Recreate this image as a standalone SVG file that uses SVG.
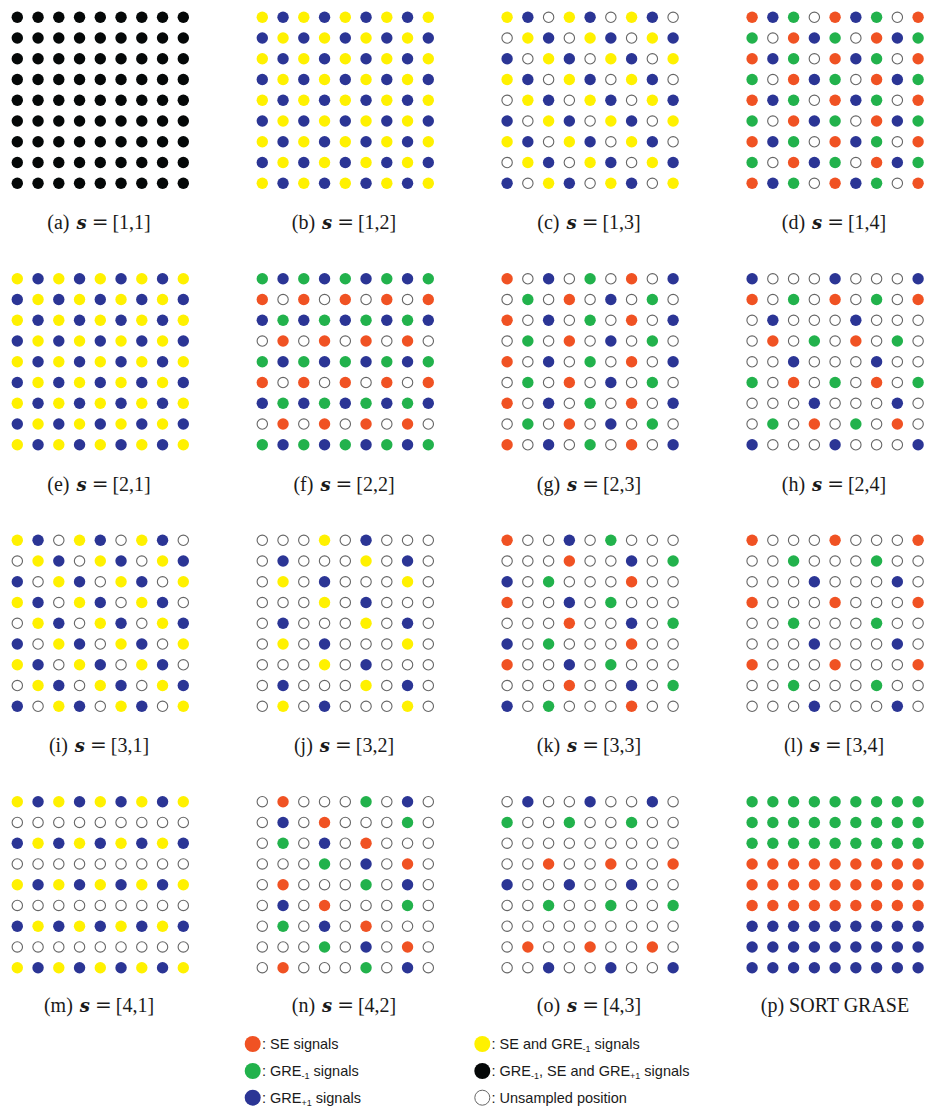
<svg xmlns="http://www.w3.org/2000/svg" width="927" height="1108" viewBox="0 0 927 1108">
<style>
.cap{font-family:"Liberation Serif","Times New Roman",serif;font-size:20px;fill:#1a1a1a}
.sv{font-family:"DejaVu Serif","Liberation Serif",serif;font-weight:bold;font-style:italic;font-size:18px}
.eq{font-family:"DejaVu Serif","Liberation Serif",serif;font-size:20px}
.leg{font-family:"Liberation Sans",Arial,sans-serif;font-size:14.5px;fill:#1a1a1a}
.sub{font-size:9px}
</style>
<defs>
<circle id="R" r="5.7" fill="#f05223"/>
<circle id="G" r="5.7" fill="#22b24c"/>
<circle id="B" r="5.7" fill="#2b3595"/>
<circle id="Y" r="5.7" fill="#fff100"/>
<circle id="K" r="5.7" fill="#050808"/>
<circle id="O" r="5.2" fill="#fff" stroke="#666" stroke-width="1.1"/>
<g id="rK"><use href="#K"/><use href="#K" x="20.75"/><use href="#K" x="41.5"/><use href="#K" x="62.25"/><use href="#K" x="83"/><use href="#K" x="103.75"/><use href="#K" x="124.5"/><use href="#K" x="145.25"/><use href="#K" x="166"/></g>
<g id="rG"><use href="#G"/><use href="#G" x="20.75"/><use href="#G" x="41.5"/><use href="#G" x="62.25"/><use href="#G" x="83"/><use href="#G" x="103.75"/><use href="#G" x="124.5"/><use href="#G" x="145.25"/><use href="#G" x="166"/></g>
<g id="rR"><use href="#R"/><use href="#R" x="20.75"/><use href="#R" x="41.5"/><use href="#R" x="62.25"/><use href="#R" x="83"/><use href="#R" x="103.75"/><use href="#R" x="124.5"/><use href="#R" x="145.25"/><use href="#R" x="166"/></g>
<g id="rB"><use href="#B"/><use href="#B" x="20.75"/><use href="#B" x="41.5"/><use href="#B" x="62.25"/><use href="#B" x="83"/><use href="#B" x="103.75"/><use href="#B" x="124.5"/><use href="#B" x="145.25"/><use href="#B" x="166"/></g>
<g id="rO"><use href="#O"/><use href="#O" x="20.75"/><use href="#O" x="41.5"/><use href="#O" x="62.25"/><use href="#O" x="83"/><use href="#O" x="103.75"/><use href="#O" x="124.5"/><use href="#O" x="145.25"/><use href="#O" x="166"/></g>
<g id="rYB"><use href="#Y"/><use href="#B" x="20.75"/><use href="#Y" x="41.5"/><use href="#B" x="62.25"/><use href="#Y" x="83"/><use href="#B" x="103.75"/><use href="#Y" x="124.5"/><use href="#B" x="145.25"/><use href="#Y" x="166"/></g>
<g id="rBY"><use href="#B"/><use href="#Y" x="20.75"/><use href="#B" x="41.5"/><use href="#Y" x="62.25"/><use href="#B" x="83"/><use href="#Y" x="103.75"/><use href="#B" x="124.5"/><use href="#Y" x="145.25"/><use href="#B" x="166"/></g>
<g id="rc0"><use href="#Y"/><use href="#B" x="20.75"/><use href="#O" x="41.5"/><use href="#Y" x="62.25"/><use href="#B" x="83"/><use href="#O" x="103.75"/><use href="#Y" x="124.5"/><use href="#B" x="145.25"/><use href="#O" x="166"/></g>
<g id="rc1"><use href="#O"/><use href="#Y" x="20.75"/><use href="#B" x="41.5"/><use href="#O" x="62.25"/><use href="#Y" x="83"/><use href="#B" x="103.75"/><use href="#O" x="124.5"/><use href="#Y" x="145.25"/><use href="#B" x="166"/></g>
<g id="rc2"><use href="#B"/><use href="#O" x="20.75"/><use href="#Y" x="41.5"/><use href="#B" x="62.25"/><use href="#O" x="83"/><use href="#Y" x="103.75"/><use href="#B" x="124.5"/><use href="#O" x="145.25"/><use href="#Y" x="166"/></g>
<g id="rd0"><use href="#R"/><use href="#B" x="20.75"/><use href="#G" x="41.5"/><use href="#O" x="62.25"/><use href="#R" x="83"/><use href="#B" x="103.75"/><use href="#G" x="124.5"/><use href="#O" x="145.25"/><use href="#R" x="166"/></g>
<g id="rd1"><use href="#G"/><use href="#O" x="20.75"/><use href="#R" x="41.5"/><use href="#B" x="62.25"/><use href="#G" x="83"/><use href="#O" x="103.75"/><use href="#R" x="124.5"/><use href="#B" x="145.25"/><use href="#G" x="166"/></g>
<g id="rf0"><use href="#G"/><use href="#B" x="20.75"/><use href="#G" x="41.5"/><use href="#B" x="62.25"/><use href="#G" x="83"/><use href="#B" x="103.75"/><use href="#G" x="124.5"/><use href="#B" x="145.25"/><use href="#G" x="166"/></g>
<g id="rf1"><use href="#R"/><use href="#O" x="20.75"/><use href="#R" x="41.5"/><use href="#O" x="62.25"/><use href="#R" x="83"/><use href="#O" x="103.75"/><use href="#R" x="124.5"/><use href="#O" x="145.25"/><use href="#R" x="166"/></g>
<g id="rf2"><use href="#B"/><use href="#G" x="20.75"/><use href="#B" x="41.5"/><use href="#G" x="62.25"/><use href="#B" x="83"/><use href="#G" x="103.75"/><use href="#B" x="124.5"/><use href="#G" x="145.25"/><use href="#B" x="166"/></g>
<g id="rf3"><use href="#O"/><use href="#R" x="20.75"/><use href="#O" x="41.5"/><use href="#R" x="62.25"/><use href="#O" x="83"/><use href="#R" x="103.75"/><use href="#O" x="124.5"/><use href="#R" x="145.25"/><use href="#O" x="166"/></g>
<g id="rg0"><use href="#R"/><use href="#O" x="20.75"/><use href="#B" x="41.5"/><use href="#O" x="62.25"/><use href="#G" x="83"/><use href="#O" x="103.75"/><use href="#R" x="124.5"/><use href="#O" x="145.25"/><use href="#B" x="166"/></g>
<g id="rg1"><use href="#O"/><use href="#G" x="20.75"/><use href="#O" x="41.5"/><use href="#R" x="62.25"/><use href="#O" x="83"/><use href="#B" x="103.75"/><use href="#O" x="124.5"/><use href="#G" x="145.25"/><use href="#O" x="166"/></g>
<g id="rh0"><use href="#B"/><use href="#O" x="20.75"/><use href="#O" x="41.5"/><use href="#O" x="62.25"/><use href="#B" x="83"/><use href="#O" x="103.75"/><use href="#O" x="124.5"/><use href="#O" x="145.25"/><use href="#B" x="166"/></g>
<g id="rh1"><use href="#R"/><use href="#O" x="20.75"/><use href="#G" x="41.5"/><use href="#O" x="62.25"/><use href="#R" x="83"/><use href="#O" x="103.75"/><use href="#G" x="124.5"/><use href="#O" x="145.25"/><use href="#R" x="166"/></g>
<g id="rh2"><use href="#O"/><use href="#B" x="20.75"/><use href="#O" x="41.5"/><use href="#O" x="62.25"/><use href="#O" x="83"/><use href="#B" x="103.75"/><use href="#O" x="124.5"/><use href="#O" x="145.25"/><use href="#O" x="166"/></g>
<g id="rh3"><use href="#O"/><use href="#R" x="20.75"/><use href="#O" x="41.5"/><use href="#G" x="62.25"/><use href="#O" x="83"/><use href="#R" x="103.75"/><use href="#O" x="124.5"/><use href="#G" x="145.25"/><use href="#O" x="166"/></g>
<g id="rh4"><use href="#O"/><use href="#O" x="20.75"/><use href="#B" x="41.5"/><use href="#O" x="62.25"/><use href="#O" x="83"/><use href="#O" x="103.75"/><use href="#B" x="124.5"/><use href="#O" x="145.25"/><use href="#O" x="166"/></g>
<g id="rh5"><use href="#G"/><use href="#O" x="20.75"/><use href="#R" x="41.5"/><use href="#O" x="62.25"/><use href="#G" x="83"/><use href="#O" x="103.75"/><use href="#R" x="124.5"/><use href="#O" x="145.25"/><use href="#G" x="166"/></g>
<g id="rh6"><use href="#O"/><use href="#O" x="20.75"/><use href="#O" x="41.5"/><use href="#B" x="62.25"/><use href="#O" x="83"/><use href="#O" x="103.75"/><use href="#O" x="124.5"/><use href="#B" x="145.25"/><use href="#O" x="166"/></g>
<g id="rh7"><use href="#O"/><use href="#G" x="20.75"/><use href="#O" x="41.5"/><use href="#R" x="62.25"/><use href="#O" x="83"/><use href="#G" x="103.75"/><use href="#O" x="124.5"/><use href="#R" x="145.25"/><use href="#O" x="166"/></g>
<g id="rj0"><use href="#O"/><use href="#O" x="20.75"/><use href="#O" x="41.5"/><use href="#Y" x="62.25"/><use href="#O" x="83"/><use href="#B" x="103.75"/><use href="#O" x="124.5"/><use href="#O" x="145.25"/><use href="#O" x="166"/></g>
<g id="rj1"><use href="#O"/><use href="#B" x="20.75"/><use href="#O" x="41.5"/><use href="#O" x="62.25"/><use href="#O" x="83"/><use href="#Y" x="103.75"/><use href="#O" x="124.5"/><use href="#B" x="145.25"/><use href="#O" x="166"/></g>
<g id="rj2"><use href="#O"/><use href="#Y" x="20.75"/><use href="#O" x="41.5"/><use href="#B" x="62.25"/><use href="#O" x="83"/><use href="#O" x="103.75"/><use href="#O" x="124.5"/><use href="#Y" x="145.25"/><use href="#O" x="166"/></g>
<g id="rk0"><use href="#R"/><use href="#O" x="20.75"/><use href="#O" x="41.5"/><use href="#B" x="62.25"/><use href="#O" x="83"/><use href="#G" x="103.75"/><use href="#O" x="124.5"/><use href="#O" x="145.25"/><use href="#O" x="166"/></g>
<g id="rk1"><use href="#O"/><use href="#O" x="20.75"/><use href="#O" x="41.5"/><use href="#R" x="62.25"/><use href="#O" x="83"/><use href="#O" x="103.75"/><use href="#B" x="124.5"/><use href="#O" x="145.25"/><use href="#G" x="166"/></g>
<g id="rk2"><use href="#B"/><use href="#O" x="20.75"/><use href="#G" x="41.5"/><use href="#O" x="62.25"/><use href="#O" x="83"/><use href="#O" x="103.75"/><use href="#R" x="124.5"/><use href="#O" x="145.25"/><use href="#O" x="166"/></g>
<g id="rl0"><use href="#R"/><use href="#O" x="20.75"/><use href="#O" x="41.5"/><use href="#O" x="62.25"/><use href="#R" x="83"/><use href="#O" x="103.75"/><use href="#O" x="124.5"/><use href="#O" x="145.25"/><use href="#R" x="166"/></g>
<g id="rl1"><use href="#O"/><use href="#O" x="20.75"/><use href="#G" x="41.5"/><use href="#O" x="62.25"/><use href="#O" x="83"/><use href="#O" x="103.75"/><use href="#G" x="124.5"/><use href="#O" x="145.25"/><use href="#O" x="166"/></g>
<g id="rn0"><use href="#O"/><use href="#R" x="20.75"/><use href="#O" x="41.5"/><use href="#O" x="62.25"/><use href="#O" x="83"/><use href="#G" x="103.75"/><use href="#O" x="124.5"/><use href="#B" x="145.25"/><use href="#O" x="166"/></g>
<g id="rn1"><use href="#O"/><use href="#B" x="20.75"/><use href="#O" x="41.5"/><use href="#R" x="62.25"/><use href="#O" x="83"/><use href="#O" x="103.75"/><use href="#O" x="124.5"/><use href="#G" x="145.25"/><use href="#O" x="166"/></g>
<g id="rn2"><use href="#O"/><use href="#G" x="20.75"/><use href="#O" x="41.5"/><use href="#B" x="62.25"/><use href="#O" x="83"/><use href="#R" x="103.75"/><use href="#O" x="124.5"/><use href="#O" x="145.25"/><use href="#O" x="166"/></g>
<g id="rn3"><use href="#O"/><use href="#O" x="20.75"/><use href="#O" x="41.5"/><use href="#G" x="62.25"/><use href="#O" x="83"/><use href="#B" x="103.75"/><use href="#O" x="124.5"/><use href="#R" x="145.25"/><use href="#O" x="166"/></g>
<g id="ro0"><use href="#O"/><use href="#B" x="20.75"/><use href="#O" x="41.5"/><use href="#O" x="62.25"/><use href="#B" x="83"/><use href="#O" x="103.75"/><use href="#O" x="124.5"/><use href="#B" x="145.25"/><use href="#O" x="166"/></g>
<g id="ro1"><use href="#G"/><use href="#O" x="20.75"/><use href="#O" x="41.5"/><use href="#G" x="62.25"/><use href="#O" x="83"/><use href="#O" x="103.75"/><use href="#G" x="124.5"/><use href="#O" x="145.25"/><use href="#O" x="166"/></g>
<g id="ro3"><use href="#O"/><use href="#O" x="20.75"/><use href="#R" x="41.5"/><use href="#O" x="62.25"/><use href="#O" x="83"/><use href="#R" x="103.75"/><use href="#O" x="124.5"/><use href="#O" x="145.25"/><use href="#R" x="166"/></g>
<g id="ro4"><use href="#B"/><use href="#O" x="20.75"/><use href="#O" x="41.5"/><use href="#B" x="62.25"/><use href="#O" x="83"/><use href="#O" x="103.75"/><use href="#B" x="124.5"/><use href="#O" x="145.25"/><use href="#O" x="166"/></g>
<g id="ro5"><use href="#O"/><use href="#O" x="20.75"/><use href="#G" x="41.5"/><use href="#O" x="62.25"/><use href="#O" x="83"/><use href="#G" x="103.75"/><use href="#O" x="124.5"/><use href="#O" x="145.25"/><use href="#G" x="166"/></g>
<g id="ro7"><use href="#O"/><use href="#R" x="20.75"/><use href="#O" x="41.5"/><use href="#O" x="62.25"/><use href="#R" x="83"/><use href="#O" x="103.75"/><use href="#O" x="124.5"/><use href="#R" x="145.25"/><use href="#O" x="166"/></g>
<g id="ro8"><use href="#O"/><use href="#O" x="20.75"/><use href="#B" x="41.5"/><use href="#O" x="62.25"/><use href="#O" x="83"/><use href="#B" x="103.75"/><use href="#O" x="124.5"/><use href="#O" x="145.25"/><use href="#B" x="166"/></g>
</defs>
<rect width="927" height="1108" fill="#fff"/>

<g id="panel-a" transform="translate(17.3,17.3)"><use href="#rK"/><use href="#rK" y="20.75"/><use href="#rK" y="41.5"/><use href="#rK" y="62.25"/><use href="#rK" y="83"/><use href="#rK" y="103.75"/><use href="#rK" y="124.5"/><use href="#rK" y="145.25"/><use href="#rK" y="166"/></g>
<g id="panel-b" transform="translate(262.3,17.3)"><use href="#rYB"/><use href="#rBY" y="20.75"/><use href="#rYB" y="41.5"/><use href="#rBY" y="62.25"/><use href="#rYB" y="83"/><use href="#rBY" y="103.75"/><use href="#rYB" y="124.5"/><use href="#rBY" y="145.25"/><use href="#rYB" y="166"/></g>
<g id="panel-c" transform="translate(507.1,17.3)"><use href="#rc0"/><use href="#rc1" y="20.75"/><use href="#rc2" y="41.5"/><use href="#rc0" y="62.25"/><use href="#rc1" y="83"/><use href="#rc2" y="103.75"/><use href="#rc0" y="124.5"/><use href="#rc1" y="145.25"/><use href="#rc2" y="166"/></g>
<g id="panel-d" transform="translate(752.1,17.3)"><use href="#rd0"/><use href="#rd1" y="20.75"/><use href="#rd0" y="41.5"/><use href="#rd1" y="62.25"/><use href="#rd0" y="83"/><use href="#rd1" y="103.75"/><use href="#rd0" y="124.5"/><use href="#rd1" y="145.25"/><use href="#rd0" y="166"/></g>

<g id="panel-e" transform="translate(17.3,278.8)"><use href="#rYB"/><use href="#rBY" y="20.75"/><use href="#rYB" y="41.5"/><use href="#rBY" y="62.25"/><use href="#rYB" y="83"/><use href="#rBY" y="103.75"/><use href="#rYB" y="124.5"/><use href="#rBY" y="145.25"/><use href="#rYB" y="166"/></g>
<g id="panel-f" transform="translate(262.3,278.8)"><use href="#rf0"/><use href="#rf1" y="20.75"/><use href="#rf2" y="41.5"/><use href="#rf3" y="62.25"/><use href="#rf0" y="83"/><use href="#rf1" y="103.75"/><use href="#rf2" y="124.5"/><use href="#rf3" y="145.25"/><use href="#rf0" y="166"/></g>
<g id="panel-g" transform="translate(507.1,278.8)"><use href="#rg0"/><use href="#rg1" y="20.75"/><use href="#rg0" y="41.5"/><use href="#rg1" y="62.25"/><use href="#rg0" y="83"/><use href="#rg1" y="103.75"/><use href="#rg0" y="124.5"/><use href="#rg1" y="145.25"/><use href="#rg0" y="166"/></g>
<g id="panel-h" transform="translate(752.1,278.8)"><use href="#rh0"/><use href="#rh1" y="20.75"/><use href="#rh2" y="41.5"/><use href="#rh3" y="62.25"/><use href="#rh4" y="83"/><use href="#rh5" y="103.75"/><use href="#rh6" y="124.5"/><use href="#rh7" y="145.25"/><use href="#rh0" y="166"/></g>

<g id="panel-i" transform="translate(17.3,540.3)"><use href="#rc0"/><use href="#rc1" y="20.75"/><use href="#rc2" y="41.5"/><use href="#rc0" y="62.25"/><use href="#rc1" y="83"/><use href="#rc2" y="103.75"/><use href="#rc0" y="124.5"/><use href="#rc1" y="145.25"/><use href="#rc2" y="166"/></g>
<g id="panel-j" transform="translate(262.3,540.3)"><use href="#rj0"/><use href="#rj1" y="20.75"/><use href="#rj2" y="41.5"/><use href="#rj0" y="62.25"/><use href="#rj1" y="83"/><use href="#rj2" y="103.75"/><use href="#rj0" y="124.5"/><use href="#rj1" y="145.25"/><use href="#rj2" y="166"/></g>
<g id="panel-k" transform="translate(507.1,540.3)"><use href="#rk0"/><use href="#rk1" y="20.75"/><use href="#rk2" y="41.5"/><use href="#rk0" y="62.25"/><use href="#rk1" y="83"/><use href="#rk2" y="103.75"/><use href="#rk0" y="124.5"/><use href="#rk1" y="145.25"/><use href="#rk2" y="166"/></g>
<g id="panel-l" transform="translate(752.1,540.3)"><use href="#rl0"/><use href="#rl1" y="20.75"/><use href="#rh6" y="41.5"/><use href="#rl0" y="62.25"/><use href="#rl1" y="83"/><use href="#rh6" y="103.75"/><use href="#rl0" y="124.5"/><use href="#rl1" y="145.25"/><use href="#rh6" y="166"/></g>

<g id="panel-m" transform="translate(17.3,801.7)"><use href="#rYB"/><use href="#rO" y="20.75"/><use href="#rBY" y="41.5"/><use href="#rO" y="62.25"/><use href="#rYB" y="83"/><use href="#rO" y="103.75"/><use href="#rBY" y="124.5"/><use href="#rO" y="145.25"/><use href="#rYB" y="166"/></g>
<g id="panel-n" transform="translate(262.3,801.7)"><use href="#rn0"/><use href="#rn1" y="20.75"/><use href="#rn2" y="41.5"/><use href="#rn3" y="62.25"/><use href="#rn0" y="83"/><use href="#rn1" y="103.75"/><use href="#rn2" y="124.5"/><use href="#rn3" y="145.25"/><use href="#rn0" y="166"/></g>
<g id="panel-o" transform="translate(507.1,801.7)"><use href="#ro0"/><use href="#ro1" y="20.75"/><use href="#rO" y="41.5"/><use href="#ro3" y="62.25"/><use href="#ro4" y="83"/><use href="#ro5" y="103.75"/><use href="#rO" y="124.5"/><use href="#ro7" y="145.25"/><use href="#ro8" y="166"/></g>
<g id="panel-p" transform="translate(752.1,801.7)"><use href="#rG"/><use href="#rG" y="20.75"/><use href="#rG" y="41.5"/><use href="#rR" y="62.25"/><use href="#rR" y="83"/><use href="#rR" y="103.75"/><use href="#rB" y="124.5"/><use href="#rB" y="145.25"/><use href="#rB" y="166"/></g>

<g id="captions" class="cap" text-anchor="middle">
<text x="99" y="229">(a)<tspan class="sv" dx="7">s</tspan><tspan class="eq" dx="5">=</tspan><tspan dx="4">[1,1]</tspan></text>
<text x="344" y="229">(b)<tspan class="sv" dx="7">s</tspan><tspan class="eq" dx="5">=</tspan><tspan dx="4">[1,2]</tspan></text>
<text x="589" y="229">(c)<tspan class="sv" dx="7">s</tspan><tspan class="eq" dx="5">=</tspan><tspan dx="4">[1,3]</tspan></text>
<text x="834" y="229">(d)<tspan class="sv" dx="7">s</tspan><tspan class="eq" dx="5">=</tspan><tspan dx="4">[1,4]</tspan></text>

<text x="99" y="490.5">(e)<tspan class="sv" dx="7">s</tspan><tspan class="eq" dx="5">=</tspan><tspan dx="4">[2,1]</tspan></text>
<text x="344" y="490.5">(f)<tspan class="sv" dx="7">s</tspan><tspan class="eq" dx="5">=</tspan><tspan dx="4">[2,2]</tspan></text>
<text x="589" y="490.5">(g)<tspan class="sv" dx="7">s</tspan><tspan class="eq" dx="5">=</tspan><tspan dx="4">[2,3]</tspan></text>
<text x="834" y="490.5">(h)<tspan class="sv" dx="7">s</tspan><tspan class="eq" dx="5">=</tspan><tspan dx="4">[2,4]</tspan></text>

<text x="99" y="752">(i)<tspan class="sv" dx="7">s</tspan><tspan class="eq" dx="5">=</tspan><tspan dx="4">[3,1]</tspan></text>
<text x="344" y="752">(j)<tspan class="sv" dx="7">s</tspan><tspan class="eq" dx="5">=</tspan><tspan dx="4">[3,2]</tspan></text>
<text x="589" y="752">(k)<tspan class="sv" dx="7">s</tspan><tspan class="eq" dx="5">=</tspan><tspan dx="4">[3,3]</tspan></text>
<text x="834" y="752">(l)<tspan class="sv" dx="7">s</tspan><tspan class="eq" dx="5">=</tspan><tspan dx="4">[3,4]</tspan></text>

<text x="99" y="1012">(m)<tspan class="sv" dx="7">s</tspan><tspan class="eq" dx="5">=</tspan><tspan dx="4">[4,1]</tspan></text>
<text x="344" y="1012">(n)<tspan class="sv" dx="7">s</tspan><tspan class="eq" dx="5">=</tspan><tspan dx="4">[4,2]</tspan></text>
<text x="589" y="1012">(o)<tspan class="sv" dx="7">s</tspan><tspan class="eq" dx="5">=</tspan><tspan dx="4">[4,3]</tspan></text>
<text x="835" y="1012">(p) SORT GRASE</text>
</g>

<g id="legend">
<circle cx="252.7" cy="1044" r="8" fill="#f05223"/>
<circle cx="252.7" cy="1071" r="8" fill="#22b24c"/>
<circle cx="252.7" cy="1097.7" r="8" fill="#2b3595"/>
<circle cx="482.3" cy="1044" r="8" fill="#fff100"/>
<circle cx="482.3" cy="1071" r="8" fill="#050808"/>
<circle cx="482.3" cy="1097.7" r="7.5" fill="#fff" stroke="#666" stroke-width="1"/>
<text class="leg" x="262" y="1049">: SE signals</text>
<text class="leg" x="262" y="1076">: GRE<tspan class="sub" dy="3">-1</tspan><tspan dy="-3"> signals</tspan></text>
<text class="leg" x="262" y="1103">: GRE<tspan class="sub" dy="3">+1</tspan><tspan dy="-3"> signals</tspan></text>
<text class="leg" x="491.5" y="1049">: SE and GRE<tspan class="sub" dy="3">-1</tspan><tspan dy="-3"> signals</tspan></text>
<text class="leg" x="491.5" y="1076">: GRE<tspan class="sub" dy="3">-1</tspan><tspan dy="-3">, SE and GRE</tspan><tspan class="sub" dy="3">+1</tspan><tspan dy="-3"> signals</tspan></text>
<text class="leg" x="491.5" y="1103">: Unsampled position</text>
</g>
</svg>
